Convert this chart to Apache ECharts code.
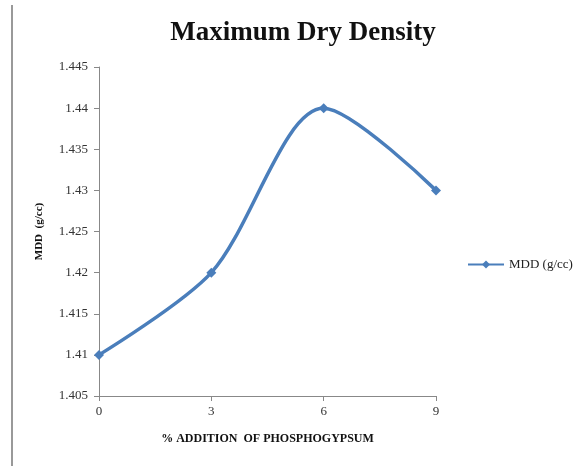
<!DOCTYPE html>
<html><head><meta charset="utf-8">
<script src="https://cdn.jsdelivr.net/npm/echarts@6/dist/echarts.min.js"></script>
<style>html,body{margin:0;padding:0;background:#fff}#c{width:585px;height:470px}</style>
</head><body><div id="c"></div>
<script>
const categories = ['0', '3', '6', '9'];
const mddValues = [1.41, 1.42, 1.44, 1.43];
const seriesName = 'MDD (g/cc)';
const chart = echarts.init(document.getElementById('c'), null, {renderer: 'canvas'});
const serif = '"Liberation Serif","DejaVu Serif",serif';
chart.setOption({
  backgroundColor: '#fff',
  animation: false,
  title: {
    text: 'Maximum Dry Density', left: 298, textAlign: 'center', top: 15,
    textStyle: {fontFamily: serif, fontWeight: 'bold', fontSize: 27, color: '#111'}
  },
  legend: {
    data: [seriesName], left: 462, top: 253, itemWidth: 36, itemHeight: 10, itemGap: 2,
    textStyle: {fontFamily: serif, fontSize: 13, color: '#222'}
  },
  grid: {left: 99, right: 149, top: 67, bottom: 74, containLabel: false},
  xAxis: {
    type: 'category', data: categories, boundaryGap: false,
    name: '% ADDITION  OF PHOSPHOGYPSUM', nameLocation: 'middle', nameGap: 37,
    nameTextStyle: {fontFamily: serif, fontWeight: 'bold', fontSize: 12, color: '#111'},
    axisLine: {lineStyle: {color: '#888', width: 1}},
    axisTick: {alignWithLabel: true, length: 5, lineStyle: {color: '#888'}},
    axisLabel: {fontFamily: serif, fontSize: 13, color: '#333', margin: 9},
    splitLine: {show: false}
  },
  yAxis: {
    type: 'value', min: 1.405, max: 1.445, interval: 0.005,
    name: 'MDD  (g/cc)', nameLocation: 'middle', nameGap: 54, nameRotate: 90,
    nameTextStyle: {fontFamily: serif, fontWeight: 'bold', fontSize: 11, color: '#111'},
    axisLine: {show: true, lineStyle: {color: '#888', width: 1}},
    axisTick: {show: true, length: 5, lineStyle: {color: '#888'}},
    axisLabel: {fontFamily: serif, fontSize: 13, color: '#333', margin: 11,
      formatter: v => String(parseFloat(v.toFixed(3)))},
    splitLine: {show: false}
  },
  graphic: [{type: 'line', shape: {x1: 12, y1: 5, x2: 12, y2: 466},
    style: {stroke: '#777', lineWidth: 1.5}}],
  series: [{
    name: seriesName, type: 'line', data: mddValues, smooth: 0.3,
    symbol: 'diamond', symbolSize: 10,
    lineStyle: {color: '#4A7EBB', width: 3.5},
    itemStyle: {color: '#4A7EBB'}
  }]
});
</script></body></html>
